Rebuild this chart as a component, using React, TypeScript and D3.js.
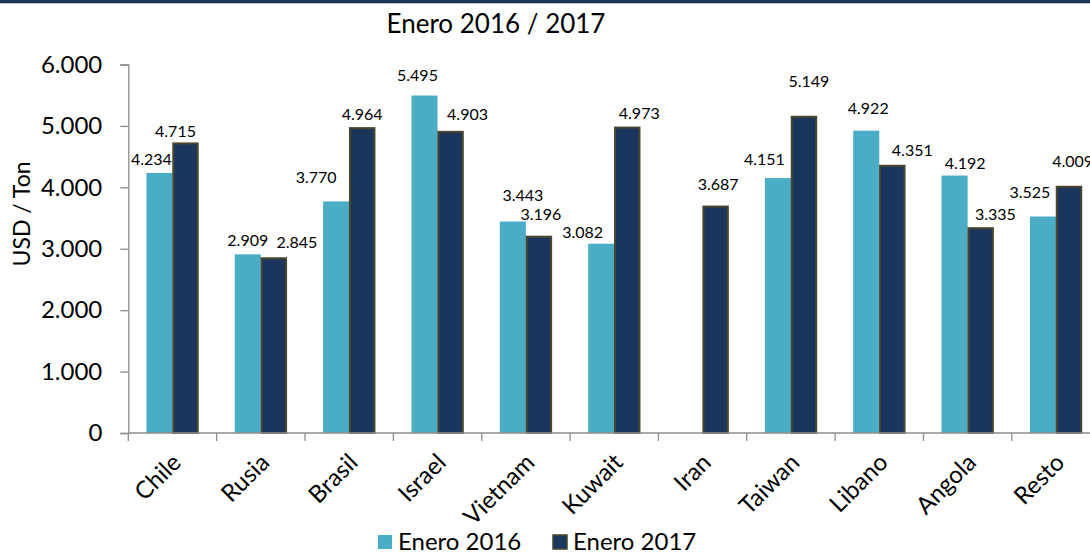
import { useEffect, useRef } from "react";
import { select, scaleBand, scaleLinear, axisLeft, formatLocale } from "d3";

const categories = [
  "Chile",
  "Rusia",
  "Brasil",
  "Israel",
  "Vietnam",
  "Kuwait",
  "Iran",
  "Taiwan",
  "Libano",
  "Angola",
  "Resto",
];
const series = ["Enero 2016", "Enero 2017"];
const enero2016: (number | null)[] = [4234, 2909, 3770, 5495, 3443, 3082, null, 4151, 4922, 4192, 3525];
const enero2017: (number | null)[] = [4715, 2845, 4964, 4903, 3196, 4973, 3687, 5149, 4351, 3335, 4009];
const yTicks = [0, 1000, 2000, 3000, 4000, 5000, 6000];

// label nudges (px) relative to bar center / bar top, like the hand-placed excel labels
const nudgeX2016 = [-8, 0, -20, -7, 10, -18.5, 0, -13.5, 2, 10.5, -13];
const nudgeY2016 = [-14, -14, -24, -20.5, -26.5, -11.7, 0, -18.7, -22.4, -12.2, -23.8];
const nudgeX2017 = [-10, 23, 0, 17, 2, 12, 2.5, 5, 20, 14.7, 3.7];
const nudgeY2017 = [-11.7, -15.6, -14, -17, -22.7, -14.6, -22.6, -35, -15.8, -14.2, -25];

const W = 1090;
const H = 552;
const FONT = "Lato, 'Open Sans', sans-serif";
const LIGHT = "#4bacc6";
const DARK = "#1b365d";
const DARK_EDGE = "#4a452c";

const fmt = formatLocale({
  decimal: ",",
  thousands: ".",
  grouping: [3],
  currency: ["$", ""],
}).format(",d");

export default function App() {
  const svgRef = useRef<SVGSVGElement>(null);

  useEffect(() => {
    const svg = select(svgRef.current);
    svg.selectAll("*").remove();

    const left = 128.3;
    const right = left + 88.35 * categories.length;
    const top = 64.5;
    const bottom = 433;

    svg.append("rect").attr("width", W).attr("height", H).attr("fill", "#fff");
    // top band
    svg.append("rect").attr("width", W).attr("height", 3.3).attr("fill", DARK);

    const x0 = scaleBand<string>()
      .domain(categories)
      .range([left, right])
      .paddingInner(0.41)
      .paddingOuter(0.205);
    const x1 = scaleBand<string>().domain(series).range([0, x0.bandwidth()]);
    const y = scaleLinear().domain([0, 6000]).range([bottom, top]);

    // title
    svg
      .append("text")
      .attr("x", 496)
      .attr("y", 33)
      .attr("text-anchor", "middle")
      .attr("font-family", FONT)
      .attr("font-size", 26)
      .attr("fill", "#000")
      .text("Enero 2016 / 2017");

    // y axis
    svg
      .append("g")
      .attr("transform", `translate(${left},0)`)
      .call(
        axisLeft(y)
          .tickValues(yTicks)
          .tickSize(8)
          .tickPadding(18)
          .tickFormat((d) => fmt(d as number)),
      )
      .call((sel) => sel.select(".domain").attr("stroke", "#8c8c8c").attr("stroke-width", 1.3))
      .call((sel) => sel.selectAll(".tick line").attr("stroke", "#8c8c8c").attr("stroke-width", 1.3))
      .call((sel) =>
        sel
          .selectAll(".tick text")
          .attr("fill", "#000")
          .attr("font-size", 24)
          .attr("font-family", FONT),
      );

    svg
      .append("text")
      .attr("transform", `translate(30,214) rotate(-90)`)
      .attr("text-anchor", "middle")
      .attr("font-family", FONT)
      .attr("font-size", 23)
      .attr("fill", "#000")
      .text("USD / Ton");

    // bars
    const groups = svg
      .append("g")
      .selectAll("g")
      .data(categories)
      .join("g")
      .attr("transform", (c) => `translate(${x0(c)},0)`);

    groups.each(function (c, i) {
      const g = select(this);
      const v16 = enero2016[i];
      const v17 = enero2017[i];
      if (v16 != null) {
        g.append("rect")
          .attr("x", x1(series[0])!)
          .attr("y", y(v16))
          .attr("width", x1.bandwidth())
          .attr("height", bottom - y(v16))
          .attr("fill", LIGHT);
      }
      if (v17 != null) {
        g.append("rect")
          .attr("x", x1(series[1])! + 0.8)
          .attr("y", y(v17))
          .attr("width", x1.bandwidth() - 1.6)
          .attr("height", bottom - y(v17))
          .attr("fill", DARK)
          .attr("stroke", DARK_EDGE)
          .attr("stroke-width", 2);
      }
    });

    // x axis
    const step = x0.step();
    const gap = (step - x0.bandwidth()) / 2;
    svg
      .append("line")
      .attr("x1", left)
      .attr("x2", right)
      .attr("y1", bottom)
      .attr("y2", bottom)
      .attr("stroke", "#8c8c8c")
      .attr("stroke-width", 1.5);
    const bounds = categories.map((c) => x0(c)! - gap).concat([right]);
    svg
      .append("g")
      .selectAll("line")
      .data(bounds)
      .join("line")
      .attr("x1", (d) => d)
      .attr("x2", (d) => d)
      .attr("y1", bottom)
      .attr("y2", bottom + 8)
      .attr("stroke", "#8c8c8c")
      .attr("stroke-width", 1.3);

    svg
      .append("g")
      .selectAll("text")
      .data(categories)
      .join("text")
      .attr(
        "transform",
        (c) => `translate(${x0(c)! + x0.bandwidth() / 2 + 10},${bottom + 31}) rotate(-45)`,
      )
      .attr("text-anchor", "end")
      .attr("font-family", FONT)
      .attr("font-size", 24)
      .attr("fill", "#000")
      .text((c) => c);

    // data labels
    const labels = svg.append("g").attr("font-family", FONT).attr("font-size", 16).attr("fill", "#000");
    categories.forEach((c, i) => {
      const entries: [number | null, string, number, number][] = [
        [enero2016[i], series[0], nudgeX2016[i], nudgeY2016[i]],
        [enero2017[i], series[1], nudgeX2017[i], nudgeY2017[i]],
      ];
      entries.forEach(([v, s, dx, dy]) => {
        if (v == null) return;
        labels
          .append("text")
          .attr("x", x0(c)! + x1(s)! + x1.bandwidth() / 2 + dx)
          .attr("y", y(v) + dy)
          .attr("dy", "0.35em")
          .attr("text-anchor", "middle")
          .text(fmt(v));
      });
    });

    // legend
    const legend = svg.append("g").attr("transform", `translate(378,535)`);
    const items = legend
      .selectAll("g")
      .data(series)
      .join("g")
      .attr("transform", (_, i) => `translate(${i * 175},0)`);
    items
      .append("rect")
      .attr("width", 14)
      .attr("height", 14)
      .attr("fill", (_, i) => (i === 0 ? LIGHT : DARK))
      .attr("stroke", (_, i) => (i === 0 ? "none" : DARK_EDGE))
      .attr("stroke-width", 1.5);
    items
      .append("text")
      .attr("x", 20)
      .attr("y", 15)
      .attr("font-family", FONT)
      .attr("font-size", 24)
      .attr("fill", "#000")
      .text((d) => d);
  }, []);

  return (
    <div style={{ position: "absolute", left: 0, top: 0, width: W, height: H }}>
      <svg ref={svgRef} width={W} height={H} />
    </div>
  );
}
